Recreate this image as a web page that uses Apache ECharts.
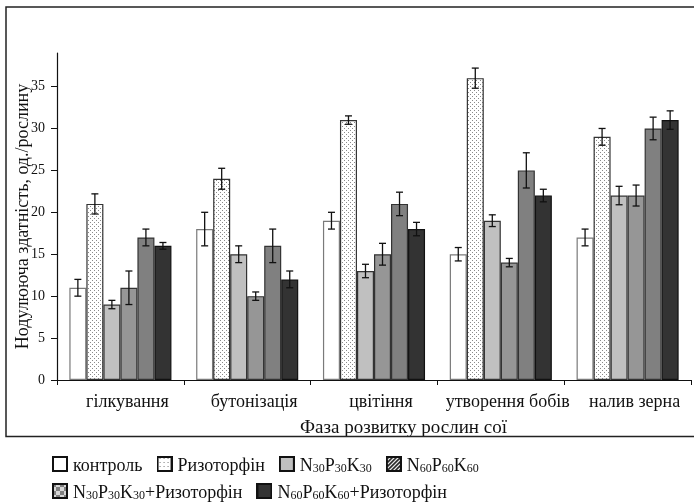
<!DOCTYPE html>
<html>
<head>
<meta charset="utf-8">
<script src="https://cdn.jsdelivr.net/npm/echarts@6/dist/echarts.min.js"></script>
<style>
  html, body { margin: 0; padding: 0; background: #fff; }
  #chart-container { width: 694px; height: 502px; }
</style>
</head>
<body>
<div id="chart-container"></div>
<script>
var phases = ['гілкування', 'бутонізація', 'цвітіння', 'утворення бобів', 'налив зерна'];
var seriesNames = ['контроль', 'Ризоторфін', 'N30P30K30', 'N60P60K60', 'N30P30K30+Ризоторфін', 'N60P60K60+Ризоторфін'];

var kontrol = [11, 18, 19, 15, 17];
var rizotorfin = [21, 24, 31, 36, 29];
var npk30 = [9, 15, 13, 19, 22];
var npk60 = [11, 10, 15, 14, 22];
var npk30riz = [17, 16, 21, 25, 30];
var npk60riz = [16, 12, 18, 22, 31];

var kontrolErr = [1, 2, 1, 0.8, 1];
var rizotorfinErr = [1.2, 1.25, 0.5, 1.2, 1];
var npk30Err = [0.5, 1, 0.8, 0.7, 1.1];
var npk60Err = [2, 0.5, 1.3, 0.5, 1.25];
var npk30rizErr = [1, 2, 1.4, 2.1, 1.35];
var npk60rizErr = [0.4, 1, 0.8, 0.75, 1.1];

var yTicks = [0, 5, 10, 15, 20, 25, 30, 35];

var values = [kontrol, rizotorfin, npk30, npk60, npk30riz, npk60riz];
var errors = [kontrolErr, rizotorfinErr, npk30Err, npk60Err, npk30rizErr, npk60rizErr];

// dotted fill for Ризоторфін
function makeCanvas(w, h) {
  var c = document.createElement('canvas');
  c.width = w; c.height = h;
  return c;
}
var dots = makeCanvas(4, 4);
(function () {
  var g = dots.getContext('2d');
  g.fillStyle = '#ffffff'; g.fillRect(0, 0, 4, 4);
  g.fillStyle = '#8a8a8a';
  g.fillRect(0, 0, 1, 1);
  g.fillRect(2, 2, 1, 1);
})();

var fills = ['#ffffff', { image: dots, repeat: 'repeat' }, '#c0c0c0', '#969696', '#808080', '#333333'];
var borders = ['#7a7a7a', '#333333', '#333333', '#333333', '#333333', '#111111'];

// legend icons (as in the original figure legend)
function legendIcon(kind) {
  var c = makeCanvas(16, 16);
  var g = c.getContext('2d');
  g.fillStyle = '#fff'; g.fillRect(0, 0, 16, 16);
  if (kind === 1) {
    g.fillStyle = '#777';
    for (var y = 2; y < 16; y += 4) for (var x = 2; x < 16; x += 4) g.fillRect(x + ((y / 4) % 2 ? 1 : 0), y, 1, 1);
  } else if (kind === 2) {
    g.fillStyle = '#c0c0c0'; g.fillRect(0, 0, 16, 16);
  } else if (kind === 3) {
    g.strokeStyle = '#222'; g.lineWidth = 1.6;
    for (var k = -16; k < 32; k += 4) { g.beginPath(); g.moveTo(k, 16); g.lineTo(k + 16, 0); g.stroke(); }
  } else if (kind === 4) {
    for (var yy = 0; yy < 16; yy += 4) for (var xx = 0; xx < 16; xx += 4) {
      g.fillStyle = ((xx + yy) / 4) % 2 ? '#d8d8d8' : '#808080';
      g.fillRect(xx, yy, 4, 4);
    }
  } else if (kind === 5) {
    g.fillStyle = '#333'; g.fillRect(0, 0, 16, 16);
  }
  g.strokeStyle = '#111'; g.lineWidth = 2;
  g.strokeRect(1, 1, 14, 14);
  return 'image://' + c.toDataURL();
}

function richName(name) {
  return name.replace(/([A-Z])(\d+)/g, '{t|$1}{s|$2}').replace(/\+(.*)$/, '{t|+$1}').replace(/^([^{]+)$/, '{t|$1}');
}

var dom = document.getElementById('chart-container');
var myChart = echarts.init(dom, null, { renderer: 'canvas' });

var serif = '"Liberation Serif", serif';
var catGap = 0.195;

var series = seriesNames.map(function (name, i) {
  return {
    name: name,
    type: 'bar',
    data: values[i],
    barGap: 0,
    barCategoryGap: (catGap * 100) + '%',
    itemStyle: { color: fills[i], borderColor: borders[i], borderWidth: 1.2 },
    emphasis: { disabled: true }
  };
});

// error bars
errors.forEach(function (err, i) {
  series.push({
    type: 'custom',
    name: 'err' + i,
    data: values[i].map(function (v, j) { return [j, v, err[j]]; }),
    z: 5,
    silent: true,
    renderItem: function (params, api) {
      var cat = api.value(0), v = api.value(1), e = api.value(2);
      var bandW = api.size([1, 0])[0];
      var barW = bandW * (1 - catGap) / 6;
      var center = api.coord([cat, v])[0] + (i - 2.5) * barW;
      var top = api.coord([cat, v + e])[1];
      var bot = api.coord([cat, v - e])[1];
      var style = { stroke: '#111', lineWidth: 1.3 };
      return {
        type: 'group',
        children: [
          { type: 'line', shape: { x1: center, y1: top, x2: center, y2: bot }, style: style },
          { type: 'line', shape: { x1: center - 3.5, y1: top, x2: center + 3.5, y2: top }, style: style },
          { type: 'line', shape: { x1: center - 3.5, y1: bot, x2: center + 3.5, y2: bot }, style: style }
        ]
      };
    }
  });
});

var legendRich = {
  t: { fontFamily: serif, fontSize: 18, lineHeight: 22, verticalAlign: 'bottom', color: '#111' },
  s: { fontFamily: serif, fontSize: 12, lineHeight: 10, verticalAlign: 'bottom', color: '#111' }
};

function legendRow(names, top) {
  return {
    left: 52,
    top: top,
    padding: 0,
    itemWidth: 16,
    itemHeight: 16,
    itemGap: 14,
    selectedMode: false,
    data: names.map(function (n) {
      return { name: n, icon: legendIcon(seriesNames.indexOf(n)) };
    }),
    formatter: richName,
    textStyle: { fontFamily: serif, fontSize: 18, color: '#111', rich: legendRich }
  };
}

var option = {
  animation: false,
  backgroundColor: '#fff',
  textStyle: { fontFamily: serif },
  grid: { left: 57, right: 3, top: 53, bottom: 122, containLabel: false, outerBoundsMode: 'none' },
  title: {
    text: 'Фаза розвитку рослин сої',
    left: 300,
    top: 419,
    padding: 0,
    textStyle: { fontFamily: serif, fontSize: 19, fontWeight: 'normal', color: '#111' }
  },
  legend: [
    legendRow(seriesNames.slice(0, 4), 456),
    legendRow(seriesNames.slice(4), 483)
  ],
  xAxis: {
    type: 'category',
    data: phases,
    axisLine: { lineStyle: { color: '#111', width: 1.2 } },
    axisTick: { show: true, length: 5, interval: 0, lineStyle: { color: '#111' } },
    axisLabel: { fontFamily: serif, fontSize: 18, color: '#111', margin: 13, interval: 0, padding: [0, 0, 0, 14] }
  },
  yAxis: {
    type: 'value',
    min: 0,
    max: 39,
    interval: 5,
    name: 'Нодулююча здатність, од./рослину',
    nameLocation: 'middle',
    nameGap: 25,
    nameMoveOverlap: false,
    nameTextStyle: { fontFamily: serif, fontSize: 18, color: '#111' },
    axisLine: { show: true, lineStyle: { color: '#111', width: 1.2 } },
    axisTick: { show: true, length: 6, customValues: yTicks, lineStyle: { color: '#111' } },
    axisLabel: { fontFamily: serif, fontSize: 14, color: '#111', margin: 12, customValues: yTicks },
    splitLine: { show: false }
  },
  graphic: [{
    type: 'rect',
    shape: { x: 6, y: 7, width: 720, height: 429.5 },
    style: { fill: 'none', stroke: '#222', lineWidth: 1.5 },
    silent: true,
    z: 10
  }],
  series: series
};

myChart.setOption(option);
window.addEventListener('resize', myChart.resize);
</script>
</body>
</html>
